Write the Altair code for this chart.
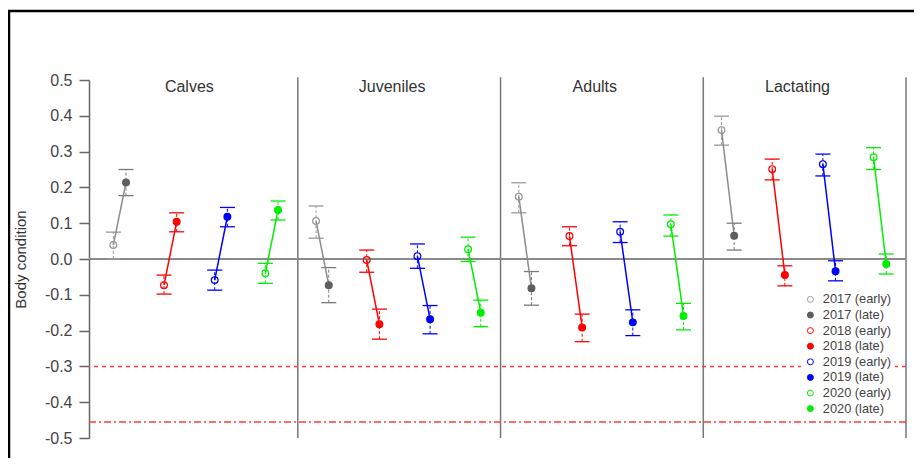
import altair as alt
import pandas as pd

groups = ["Calves", "Juveniles", "Adults", "Lactating"]
years = ["2017", "2018", "2019", "2020"]

# rows = groups, columns = years
early_mean = [[0.039, -0.073, -0.059, -0.040],
              [0.106, -0.003, 0.008, 0.027],
              [0.174, 0.064, 0.076, 0.097],
              [0.360, 0.251, 0.265, 0.284]]
early_lo = [[0.000, -0.098, -0.087, -0.068],
            [0.058, -0.037, -0.026, -0.007],
            [0.129, 0.037, 0.046, 0.064],
            [0.318, 0.221, 0.232, 0.250]]
early_hi = [[0.075, -0.045, -0.031, -0.012],
            [0.148, 0.025, 0.042, 0.061],
            [0.213, 0.090, 0.104, 0.123],
            [0.399, 0.279, 0.293, 0.311]]
late_mean = [[0.214, 0.104, 0.118, 0.137],
             [-0.073, -0.182, -0.168, -0.150],
             [-0.082, -0.191, -0.177, -0.159],
             [0.065, -0.045, -0.034, -0.014]]
late_lo = [[0.177, 0.076, 0.090, 0.109],
           [-0.122, -0.224, -0.209, -0.189],
           [-0.129, -0.231, -0.214, -0.198],
           [0.025, -0.075, -0.061, -0.042]]
late_hi = [[0.250, 0.129, 0.144, 0.162],
           [-0.024, -0.140, -0.130, -0.115],
           [-0.035, -0.154, -0.142, -0.124],
           [0.100, -0.019, -0.005, 0.014]]

thresholds = [-0.3, -0.455]
tick_values = [0.5, 0.4, 0.3, 0.2, 0.1, 0.0, -0.1, -0.2, -0.3, -0.4, -0.5]

year_line_col = {"2017": "#8c8c8c", "2018": "#ff0000", "2019": "#0000ff", "2020": "#00ee00"}
early_col = {"2017": "#9a9a9a", "2018": "#ff0000", "2019": "#0000ff", "2020": "#00ee00"}
late_col = {"2017": "#5e5e5e", "2018": "#ff0000", "2019": "#0000ff", "2020": "#00ee00"}

FONT = "Liberation Sans"
CAP = 0.037

rows, pairs = [], []
for gi, g in enumerate(groups):
    for yi, yr in enumerate(years):
        xe = gi + 0.09 + 0.25 * yi
        xl = xe + 0.0625
        rows.append(dict(group=g, year=yr, series=f"{yr} (early)", x=xe,
                         mean=early_mean[gi][yi], lo=early_lo[gi][yi], hi=early_hi[gi][yi],
                         col=early_col[yr] if yr != "2017" else "#9a9a9a"))
        rows.append(dict(group=g, year=yr, series=f"{yr} (late)", x=xl,
                         mean=late_mean[gi][yi], lo=late_lo[gi][yi], hi=late_hi[gi][yi],
                         col=late_col[yr] if yr != "2017" else "#7a7a7a"))
        pairs.append(dict(group=g, year=yr, xe=xe, ye=early_mean[gi][yi],
                          xl=xl, yl=late_mean[gi][yi], col=year_line_col[yr]))
df = pd.DataFrame(rows)
df["xa"] = df["x"] - CAP
df["xb"] = df["x"] + CAP
pf = pd.DataFrame(pairs)

series_list = []
stroke_range, fill_range = [], []
for yr in years:
    series_list += [f"{yr} (early)", f"{yr} (late)"]
    stroke_range += [early_col[yr], late_col[yr]]
    fill_range += ["transparent", late_col[yr]]

xscale = alt.Scale(domain=[-0.03, 4.0], nice=False, zero=False)
yscale = alt.Scale(domain=[-0.5, 0.5], nice=False, zero=False)

yaxis = alt.Axis(values=tick_values,
                 labelExpr="replace(format(datum.value, '.1f'), '\u2212', '-')",
                 tickSize=10, labelPadding=7, domainColor="#666666", tickColor="#666666",
                 domainWidth=1.5, tickWidth=1.5, labelColor="#444444", labelFontSize=16,
                 labelFont=FONT, grid=False, title="Body condition", titleFont=FONT,
                 titleFontSize=15, titleFontWeight="normal", titleColor="#333333",
                 titleX=-69, titleY=179, titleAngle=270, titleAlign="center",
                 titleBaseline="middle")

X = lambda f: alt.X(f, scale=xscale, axis=None)

sep = alt.Chart(pd.DataFrame({"x": [1, 2, 3, 4]})).mark_rule(color="#777777", strokeWidth=1.5).encode(
    x=X("x:Q"), y=alt.Y(datum=0.508, scale=yscale, axis=yaxis), y2=alt.datum(-0.5))

zero = alt.Chart(pd.DataFrame({"v": [0.0]})).mark_rule(color="#8a8a8a", strokeWidth=2).encode(
    y=alt.Y("v:Q", scale=yscale, axis=yaxis))

thr1 = alt.Chart(pd.DataFrame({"v": [thresholds[0]]})).mark_rule(
    color="#ff3b3b", strokeWidth=1.5, strokeDash=[4, 4]).encode(y=alt.Y("v:Q", scale=yscale, axis=yaxis))
thr2 = alt.Chart(pd.DataFrame({"v": [thresholds[1]]})).mark_rule(
    color="#ff3b3b", strokeWidth=1.5, strokeDash=[7, 3, 2, 3]).encode(y=alt.Y("v:Q", scale=yscale, axis=yaxis))

titles = alt.Chart(pd.DataFrame({"g": groups, "x": [i + 0.465 for i in range(len(groups))]})).mark_text(
    font=FONT, fontSize=16, color="#333333", baseline="middle").encode(
    x=X("x:Q"), y=alt.Y(datum=0.48, scale=yscale, axis=yaxis), text="g:N")

whisk = alt.Chart(df).mark_rule(strokeWidth=1, strokeDash=[3, 2]).encode(
    x=X("x:Q"), y=alt.Y("lo:Q", scale=yscale, axis=yaxis), y2="hi:Q",
    stroke=alt.Stroke("col:N", scale=None))
cap_lo = alt.Chart(df).mark_rule(strokeWidth=1.3).encode(
    x=X("xa:Q"), x2="xb:Q", y=alt.Y("lo:Q", scale=yscale, axis=yaxis),
    stroke=alt.Stroke("col:N", scale=None))
cap_hi = alt.Chart(df).mark_rule(strokeWidth=1.3).encode(
    x=X("xa:Q"), x2="xb:Q", y=alt.Y("hi:Q", scale=yscale, axis=yaxis),
    stroke=alt.Stroke("col:N", scale=None))

conn = alt.Chart(pf).mark_rule(strokeWidth=1.5).encode(
    x=X("xe:Q"), x2="xl:Q", y=alt.Y("ye:Q", scale=yscale, axis=yaxis), y2="yl:Q",
    stroke=alt.Stroke("col:N", scale=None))

leg = alt.Legend(title=None, orient="none", legendX=712, legendY=210, fillColor="white",
                 padding=3, labelFont=FONT, labelFontSize=12.8, labelColor="#444444",
                 symbolSize=36, symbolStrokeWidth=1, symbolType="circle", rowPadding=1.6,
                 labelOffset=6)
pts = alt.Chart(df).mark_point(shape="circle", size=46, strokeWidth=1.2, opacity=1).encode(
    x=X("x:Q"), y=alt.Y("mean:Q", scale=yscale, axis=yaxis),
    stroke=alt.Stroke("series:N", scale=alt.Scale(domain=series_list, range=stroke_range), legend=leg),
    fill=alt.Fill("series:N", scale=alt.Scale(domain=series_list, range=fill_range), legend=leg))

frame_data = pd.DataFrame({"a": [0]})
frame_left = alt.Chart(frame_data).mark_rule(color="#000000", strokeWidth=2.5).encode(
    x=alt.value(-80), y=alt.value(-69), y2=alt.value(400))
frame_top = alt.Chart(frame_data).mark_rule(color="#000000", strokeWidth=2.5).encode(
    x=alt.value(-81), x2=alt.value(900), y=alt.value(-69))

chart = alt.layer(
    sep, zero, thr1, thr2, titles, whisk, cap_lo, cap_hi, conn, pts, frame_left, frame_top
).properties(
    width=817, height=358,
    autosize=alt.AutoSizeParams(type="none"),
    padding={"left": 81, "top": 72, "right": 8, "bottom": 20},
    background="white",
).configure_view(stroke=None)

chart.save("out.html", embed_options={"renderer": "svg", "actions": False})
